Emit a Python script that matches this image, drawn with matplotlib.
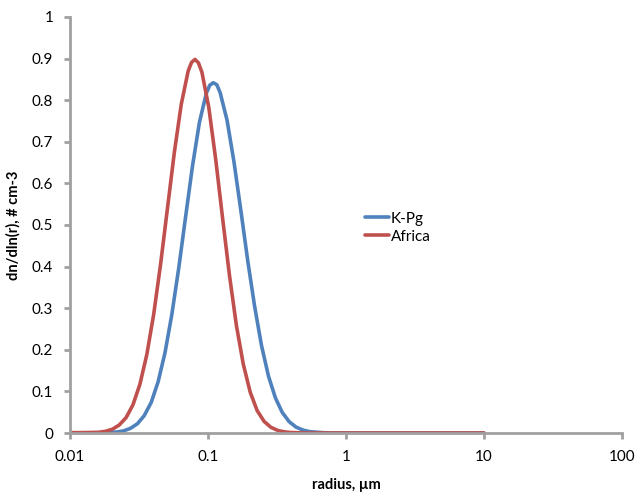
import matplotlib
matplotlib.use("Agg")
import matplotlib.pyplot as plt

# values (radius in um, dn/dln(r) in # cm-3)
kpg_r = [0.01, 0.0173, 0.0218, 0.0245, 0.0274, 0.0308, 0.0345, 0.0388, 0.0435, 0.0488,
         0.0547, 0.0614, 0.0689, 0.0773, 0.0867, 0.0973, 0.1030, 0.1092, 0.1160, 0.1225,
         0.1374, 0.1542, 0.1730, 0.1941, 0.2178, 0.2443, 0.2742, 0.3076, 0.3451, 0.3873,
         0.4345, 0.4875, 0.547, 0.689, 0.867, 1.0, 10.0]
kpg_v = [0.0, 0.0004, 0.0023, 0.0052, 0.0111, 0.0222, 0.0417, 0.0738, 0.123, 0.193,
         0.285, 0.397, 0.521, 0.643, 0.747, 0.817, 0.836, 0.842, 0.837, 0.818,
         0.752, 0.652, 0.535, 0.414, 0.304, 0.210, 0.137, 0.0848, 0.0495, 0.0273,
         0.0142, 0.0070, 0.0032, 0.0006, 0.0001, 0.0, 0.0]

africa_r = [0.01, 0.0128, 0.0161, 0.0181, 0.0203, 0.0227, 0.0255, 0.0286, 0.0321, 0.0360,
            0.0404, 0.0453, 0.0508, 0.0570, 0.0640, 0.0718, 0.0760, 0.0805, 0.0852, 0.0904,
            0.1014, 0.1138, 0.1276, 0.1432, 0.1607, 0.1803, 0.2023, 0.2270, 0.2547, 0.2858,
            0.3206, 0.3597, 0.4036, 0.508, 1.0, 10.0]
africa_v = [0.0008, 0.001, 0.0017, 0.0041, 0.0091, 0.0190, 0.0370, 0.0679, 0.117, 0.188,
            0.285, 0.405, 0.539, 0.674, 0.790, 0.870, 0.891, 0.898, 0.890, 0.867,
            0.782, 0.657, 0.516, 0.378, 0.258, 0.165, 0.098, 0.054, 0.028, 0.0136,
            0.0061, 0.0026, 0.001, 0.0001, 0.0, 0.0]

x_ticks = [0.01, 0.1, 1, 10, 100]
x_tick_labels = ["0.01", "0.1", "1", "10", "100"]
y_ticks = [0, 0.1, 0.2, 0.3, 0.4, 0.5, 0.6, 0.7, 0.8, 0.9, 1]
y_tick_labels = ["0", "0.1", "0.2", "0.3", "0.4", "0.5", "0.6", "0.7", "0.8", "0.9", "1"]

plt.rcParams["font.family"] = ["Lato", "DejaVu Sans"]

fig = plt.figure(figsize=(6.36, 4.94), dpi=100)
ax = fig.add_axes([70 / 636, 61 / 494, 552 / 636, 416 / 494])

blue = "#4F81BD"
red = "#C0504D"
ax.plot(kpg_r, kpg_v, color=blue, linewidth=2.6, label="K-Pg",
        solid_capstyle="round", solid_joinstyle="round")
ax.plot(africa_r, africa_v, color=red, linewidth=2.6, label="Africa",
        solid_capstyle="round", solid_joinstyle="round")

ax.set_xscale("log")
ax.set_xlim(0.01, 100)
ax.set_ylim(0, 1)
ax.set_xticks(x_ticks)
ax.set_xticklabels(x_tick_labels)
ax.minorticks_off()
ax.set_yticks(y_ticks)
ax.set_yticklabels(y_tick_labels)

axis_grey = "#A0A0A0"
for side in ("top", "right"):
    ax.spines[side].set_visible(False)
for side in ("left", "bottom"):
    ax.spines[side].set_color(axis_grey)
    ax.spines[side].set_linewidth(2.0)
ax.tick_params(axis="both", colors=axis_grey, width=2.0, length=4, labelsize=11,
               labelcolor="black")
ax.tick_params(axis="y", pad=8)
ax.tick_params(axis="x", pad=8)

ax.set_xlabel("radius, µm", fontsize=10.5, fontweight="bold", labelpad=10)
ax.set_ylabel("dn/dln(r), # cm-3", fontsize=10.5, fontweight="bold", labelpad=8)

ax.legend(loc="upper left", bbox_to_anchor=(0.52, 0.55), frameon=False, fontsize=11,
          handlelength=1.6, handletextpad=0.1, labelspacing=0.25, borderpad=0)

fig.savefig("out.png", dpi=100)
